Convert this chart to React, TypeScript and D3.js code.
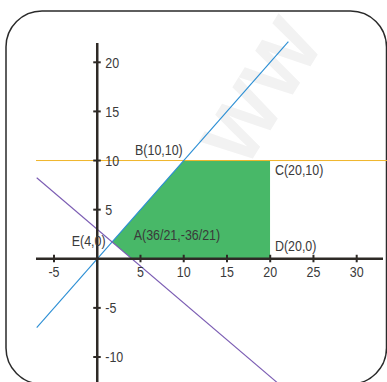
import React from "react";
import * as d3 from "d3";

const xTicks = [-5, 5, 10, 15, 20, 25, 30];
const yTicks = [20, 15, 10, 5, -5, -10];
// feasible region vertices
const regionX = [36 / 21, 10, 20, 20, 4];
const regionY = [36 / 21, 10, 10, 0, 0];
// line y = x
const blueX = [-7, 22.1];
// line 3x + 4y = 12
const purpleX = [-7, 22];
// line y = 10
const hLineY = 10;
const pointLabels = ["B(10,10)", "C(20,10)", "A(36/21,-36/21)", "E(4,0)", "D(20,0)"];
const labelX = [4.37, 20.55, 4.22, -2.95, 20.55];
const labelY = [10.57, 8.5, 1.9, 1.3, 0.8];

const W = 387;
const H = 382;
const font = "'Liberation Sans', Arial, sans-serif";
const SX = 0.83;

function T(props: { x: number; y: number; anchor?: string; children: React.ReactNode }) {
  const { x, y, anchor, children } = props;
  return (
    <text
      transform={`translate(${x},${y}) scale(${SX},1)`}
      textAnchor={anchor || "start"}
      fontFamily={font}
      fontSize={15}
      fill="#3a3a3a"
    >
      {children}
    </text>
  );
}

export default function App() {
  const x = d3.scaleLinear().domain([-5, 30]).range([54, 356.7]);
  const y = d3.scaleLinear().domain([-10, 20]).range([357, 62.3]);
  const x0 = x(0);
  const y0 = y(0);
  const line = d3.line<[number, number]>().x((d) => x(d[0])).y((d) => y(d[1]));
  const region: [number, number][] = regionX.map((v, i) => [v, regionY[i]]);
  const blue: [number, number][] = blueX.map((v) => [v, v]);
  const purple: [number, number][] = purpleX.map((v) => [v, (12 - 3 * v) / 4]);
  const axisColor = "#2e2a26";
  return (
    <svg
      width={W}
      height={H}
      style={{ position: "absolute", left: 0, top: 0, background: "#fff" }}
    >
      <text
        x={0}
        y={0}
        transform="translate(262,92) rotate(-58)"
        fontFamily="'Liberation Sans', Arial, sans-serif"
        fontSize={80}
        fontWeight="bold"
        fill="#f2f2f2"
        textAnchor="middle"
        dominantBaseline="central"
      >
        WW
      </text>
      <rect x={6} y={11} width={380.5} height={373} rx={36} ry={36} fill="none" stroke="#2a2a2a" strokeWidth={1.5} />
      <path d={line(region) + "Z"} fill="#48b868" />
      <line x1={x(20) + 0.5} x2={x(20) + 0.5} y1={y(10)} y2={y0} stroke="#ffffff" strokeWidth={1} />
      <line x1={36} x2={W} y1={y(hLineY)} y2={y(hLineY)} stroke="#f0b52a" strokeWidth={1} />
      <path d={line(blue) || ""} fill="none" stroke="#2a8ed4" strokeWidth={1.1} />
      <path d={line(purple) || ""} fill="none" stroke="#7b5cb3" strokeWidth={1.1} />
      <line x1={36} x2={383} y1={y0} y2={y0} stroke={axisColor} strokeWidth={2.5} />
      <line x1={x0} x2={x0} y1={43} y2={H} stroke={axisColor} strokeWidth={2.5} />
      {xTicks.map((t) => (
        <g key={"xt" + t}>
          <line x1={x(t)} x2={x(t)} y1={y0 - 4} y2={y0 + 3.5} stroke={axisColor} strokeWidth={2} />
          <T x={x(t)} y={y0 + 18.5} anchor="middle">
            {t}
          </T>
        </g>
      ))}
      {yTicks.map((t) => (
        <g key={"yt" + t}>
          <line x1={x0 - 4} x2={x0 + 3.5} y1={y(t)} y2={y(t)} stroke={axisColor} strokeWidth={2} />
          <T x={x0 + 8} y={y(t) + 5.3}>
            {t}
          </T>
        </g>
      ))}
      {pointLabels.map((s, i) => (
        <T key={s} x={x(labelX[i])} y={y(labelY[i])}>
          {s}
        </T>
      ))}
    </svg>
  );
}
